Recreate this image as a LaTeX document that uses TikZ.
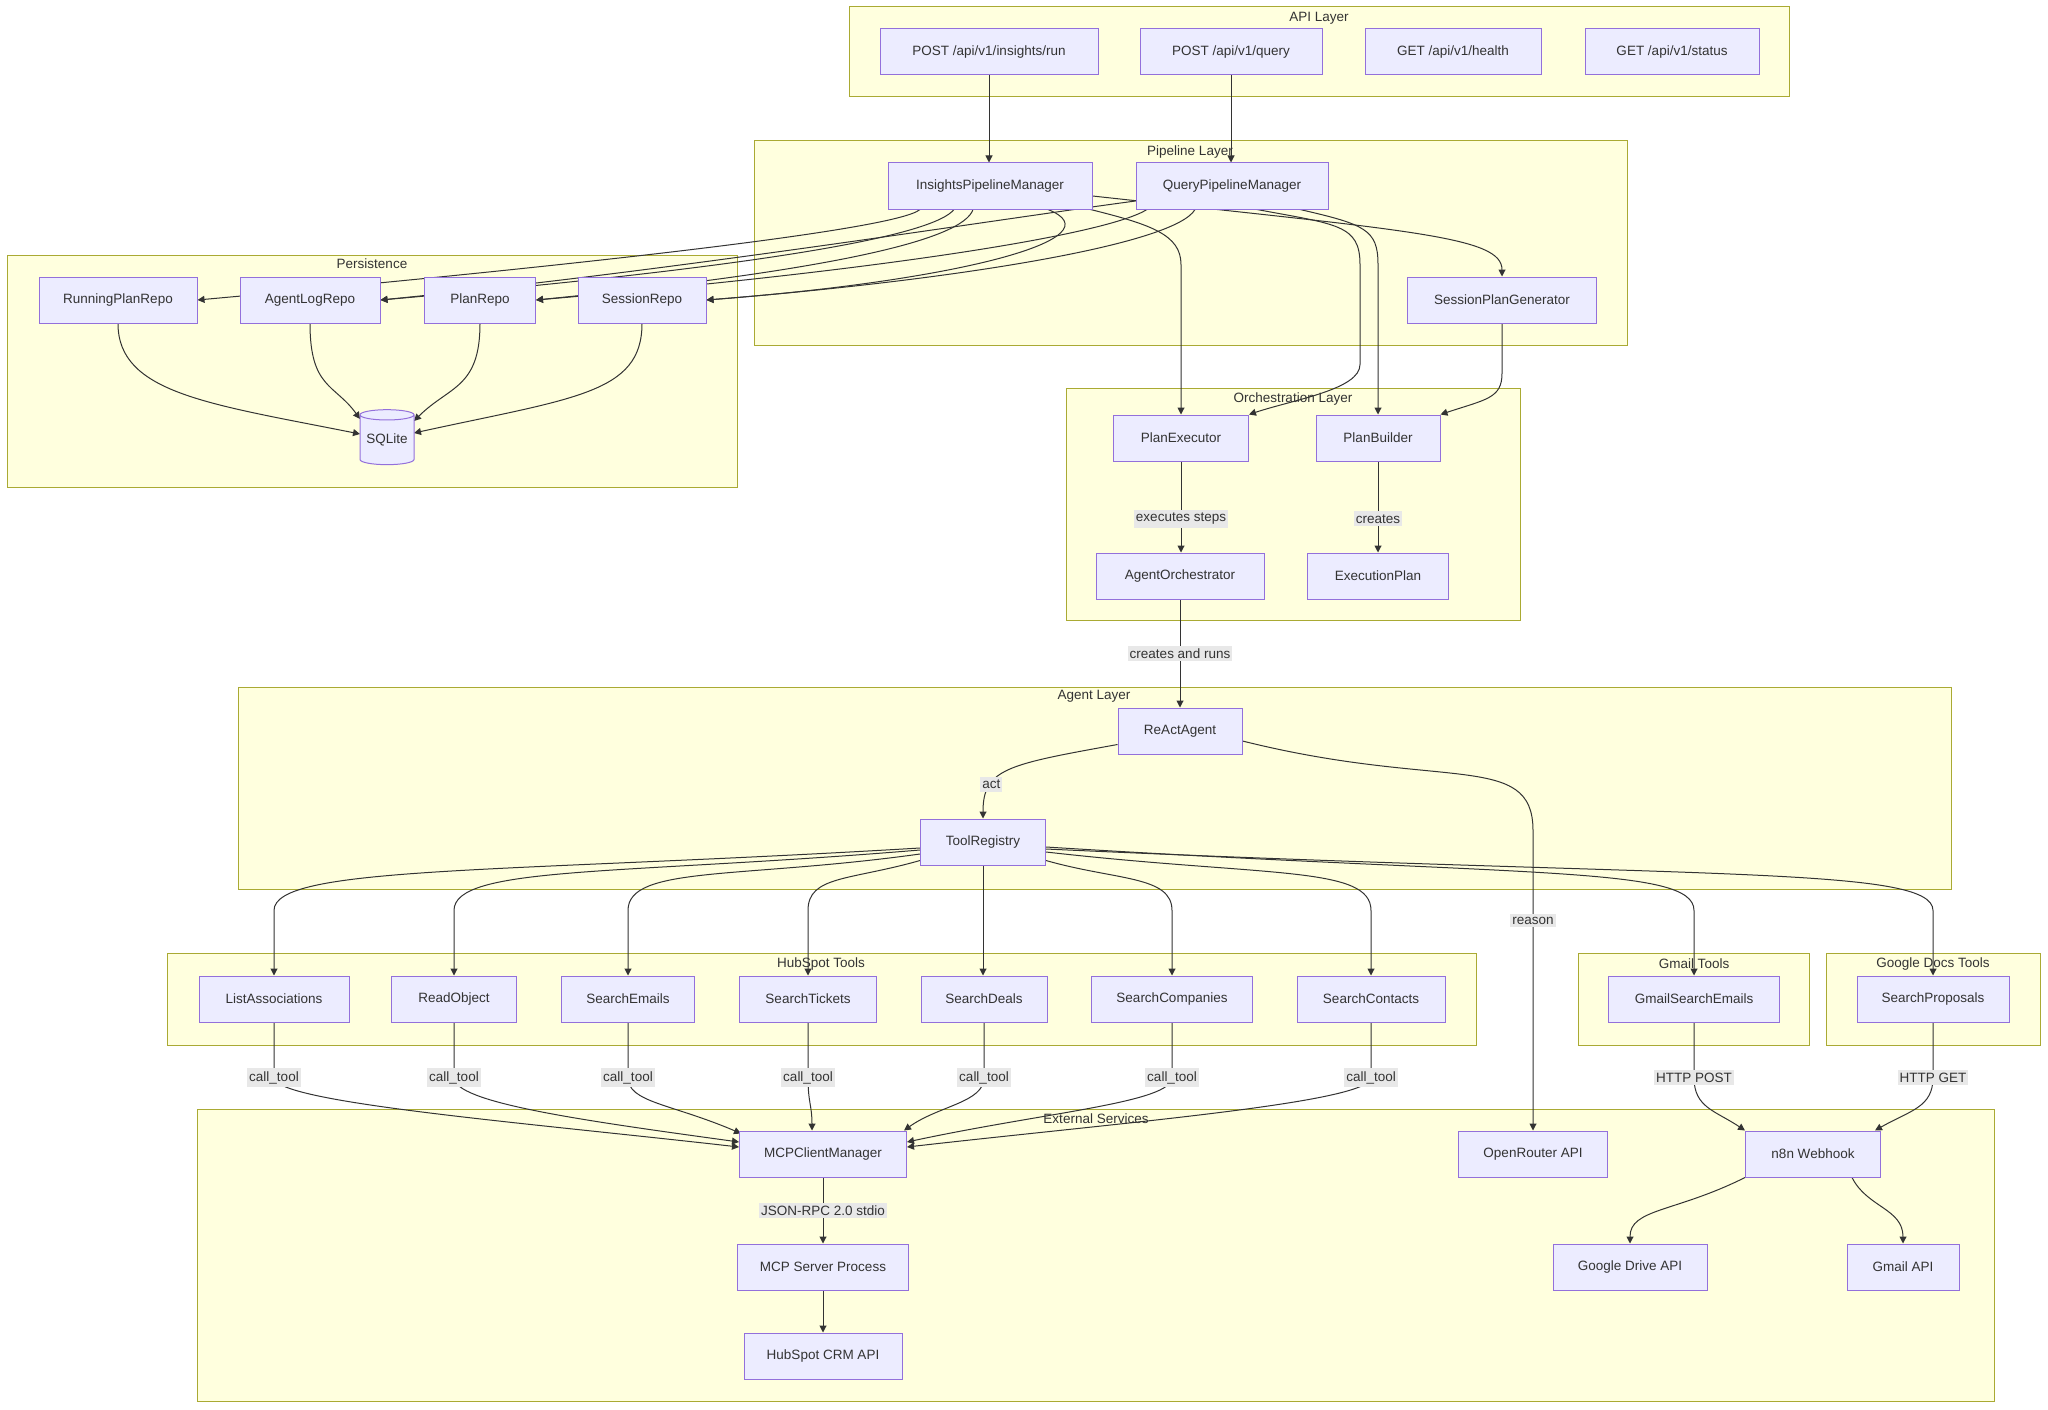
\documentclass[tikz,border=0pt]{standalone}
\usepackage{fontspec}
\setmainfont{Liberation Sans}
\usepackage{xcolor}
\usepackage{tikz}
\usetikzlibrary{shapes.geometric,arrows.meta,calc,positioning}

\definecolor{clfill}{HTML}{FFFFDE}
\definecolor{cldraw}{HTML}{AAAA33}
\definecolor{ndfill}{HTML}{ECECFF}
\definecolor{nddraw}{HTML}{9370DB}
\definecolor{edgecol}{HTML}{333333}
\definecolor{lblfill}{HTML}{E8E8E8}
\definecolor{txt}{HTML}{333333}

\pgfdeclarelayer{bg}
\pgfdeclarelayer{edges}
\pgfsetlayers{bg,edges,main}

\begin{document}
\begin{tikzpicture}[x=1pt, y=-1pt,
    font=\fontsize{13.5}{16}\selectfont,
    box/.style={draw=nddraw, fill=ndfill, line width=1pt, minimum height=46pt, inner xsep=6pt, text=txt},
    db/.style={cylinder, shape border rotate=90, aspect=0.25, draw=nddraw, fill=ndfill, line width=1pt,
        minimum width=54pt, minimum height=55pt, inner sep=0pt, text=txt},
    cluster/.style={draw=cldraw, fill=clfill, line width=1pt},
    ctitle/.style={text=txt, inner sep=1pt},
    flow/.style={draw=edgecol, line width=1pt, -{Triangle[length=7pt,width=7pt]}},
    elabel/.style={fill=lblfill, text=txt, inner xsep=2pt, inner ysep=3pt}]
    \useasboundingbox (0,0) rectangle (2048,1410);

    \begin{pgfonlayer}{bg}
        \fill[white] (0,0) rectangle (2048,1410);
        % API Layer
        \draw[cluster] (849,7) rectangle (1789,97);
        \node[ctitle] (apititle) at (1319,18) {API Layer};
        % Pipeline Layer
        \draw[cluster] (754,141) rectangle (1627,345);
        \node[ctitle] (pipetitle) at (1190,152) {Pipeline Layer};
        % Persistence
        \draw[cluster] (7,255) rectangle (737,487);
        \node[ctitle] (perstitle) at (372,264) {Persistence};
        % Orchestration Layer
        \draw[cluster] (1066,388) rectangle (1520,620);
        \node[ctitle] (orchtitle) at (1293,399) {Orchestration Layer};
        % Agent Layer
        \draw[cluster] (238,687) rectangle (1951,889);
        \node[ctitle] (agenttitle) at (1094,696) {Agent Layer};
        % HubSpot Tools
        \draw[cluster] (167,953) rectangle (1476,1045);
        \node[ctitle] (hubtitle) at (821,964) {HubSpot Tools};
        % Gmail Tools
        \draw[cluster] (1578,953) rectangle (1809,1045);
        \node[ctitle] (gmailtitle) at (1694,964) {Gmail Tools};
        % Google Docs Tools
        \draw[cluster] (1826,953) rectangle (2040,1045);
        \node[ctitle] (docstitle) at (1933,964) {Google Docs Tools};
        % External Services
        \draw[cluster] (197,1109) rectangle (1994,1401);
        \node[ctitle] (exttitle) at (1096,1119) {External Services};
    \end{pgfonlayer}

    % API Layer
    \node[box, minimum width=218pt] (runapi) at (989,52) {POST /api/v1/insights/run};
    \node[box, minimum width=182pt] (queryapi) at (1231,52) {POST /api/v1/query};
    \node[box, minimum width=176pt] (healthapi) at (1453,52) {GET /api/v1/health};
    \node[box, minimum width=174pt] (statusapi) at (1672,52) {GET /api/v1/status};

    % Pipeline Layer
    \node[box, minimum width=204pt] (ipm) at (990,186) {InsightsPipelineManager};
    \node[box, minimum width=192pt] (qpm) at (1232,186) {QueryPipelineManager};
    \node[box, minimum width=189pt] (spg) at (1502,300) {SessionPlanGenerator};

    % Persistence
    \node[box, minimum width=158pt] (rpr) at (118,300) {RunningPlanRepo};
    \node[box, minimum width=140pt] (alr) at (310,300) {AgentLogRepo};
    \node[box, minimum width=111pt] (prp) at (480,300) {PlanRepo};
    \node[box, minimum width=128pt] (srp) at (642,300) {SessionRepo};
    \node[db] (sqlite) at (387,440) {SQLite};

    % Orchestration Layer
    \node[box, minimum width=135pt] (pex) at (1181,438) {PlanExecutor};
    \node[box, minimum width=124pt] (pbd) at (1378,438) {PlanBuilder};
    \node[box, minimum width=168pt] (aor) at (1180,576) {AgentOrchestrator};
    \node[box, minimum width=141pt] (xpl) at (1378,576) {ExecutionPlan};

    % Agent Layer
    \node[box, minimum width=124pt] (react) at (1180,731) {ReActAgent};
    \node[box, minimum width=125pt] (treg) at (983,842) {ToolRegistry};

    % HubSpot, Gmail and Google Docs tools
    \node[box, minimum width=150pt] (lassoc) at (274,999) {ListAssociations};
    \node[box, minimum width=125pt] (readobj) at (454,999) {ReadObject};
    \node[box, minimum width=133pt] (semails) at (628,999) {SearchEmails};
    \node[box, minimum width=137pt] (stickets) at (808,999) {SearchTickets};
    \node[box, minimum width=126pt] (sdeals) at (984,999) {SearchDeals};
    \node[box, minimum width=161pt] (scomp) at (1172,999) {SearchCompanies};
    \node[box, minimum width=148pt] (scont) at (1371,999) {SearchContacts};
    \node[box, minimum width=171pt] (gsearch) at (1694,999) {GmailSearchEmails};
    \node[box, minimum width=152pt] (sprop) at (1933,999) {SearchProposals};

    % External Services
    \node[box, minimum width=167pt] (mcpcm) at (823,1154) {MCPClientManager};
    \node[box, minimum width=149pt] (orapi) at (1533,1154) {OpenRouter API};
    \node[box, minimum width=135pt] (webhook) at (1813,1154) {n8n Webhook};
    \node[box, minimum width=171pt] (mcpsrv) at (823,1267) {MCP Server Process};
    \node[box, minimum width=158pt] (crmapi) at (823,1356) {HubSpot CRM API};
    \node[box, minimum width=154pt] (gdrive) at (1630,1267) {Google Drive API};
    \node[box, minimum width=112pt] (gmailapi) at (1903,1267) {Gmail API};

    \begin{pgfonlayer}{edges}
        % api to pipeline
        \draw[flow] (runapi.south) -- (runapi.south |- ipm.north);
        \draw[flow] (queryapi.south) -- (queryapi.south |- qpm.north);

        % pipeline to persistence
        \draw[flow] ($(ipm.south)+(-70,0)$) .. controls +(-25,22) and +(330,-30) .. (rpr.east);
        \draw[flow] ($(ipm.south)+(-36,0)$) .. controls +(-20,25) and +(400,-35) .. (alr.east);
        \draw[flow] ($(ipm.south)+(-17,0)$) .. controls +(-10,30) and +(300,-30) .. (prp.east);
        \draw[flow] ($(ipm.south)+(58,0)$) .. controls +(70,28) and +(260,-20) .. (srp.east);
        \draw[flow] ($(qpm.west)+(0,15)$) .. controls +(-150,20) and +(300,-30) .. (alr.east);
        \draw[flow] ($(qpm.south)+(-85,0)$) .. controls +(-40,25) and +(350,-30) .. (prp.east);
        \draw[flow] ($(qpm.south)+(-37,0)$) .. controls +(-20,35) and +(250,-20) .. (srp.east);

        % pipeline to orchestration
        \draw[flow] ($(ipm.south east)+(-2,0)$) .. controls +(60,15) and +(0,-30) .. ($(pex.north)+(0,-150)$) -- (pex.north);
        \draw[flow] ($(ipm.east)+(0,10)$) .. controls +(320,35) and +(0,-40) .. (spg.north);
        \draw[flow] ($(qpm.south)+(25,0)$) .. controls +(80,15) and +(0,-40) .. ($(pbd.north)+(-18,-150)$)
            -- ($(pbd.north)+(-18,-50)$) .. controls +(0,25) and +(45,-15) .. (pex.north east);
        \draw[flow] ($(qpm.south)+(68,0)$) .. controls +(65,15) and +(0,-35) .. ($(pbd.north)+(0,-150)$) -- (pbd.north);
        \draw[flow] (spg.south) -- ++(0,50) .. controls +(0,25) and +(45,-15) .. (pbd.north east);

        % orchestration
        \draw[flow] (pex.south) -- node[elabel, pos=0.63]{executes steps} (pex.south |- aor.north);
        \draw[flow] (pbd.south) -- node[elabel, pos=0.63]{creates} (pbd.south |- xpl.north);
        \draw[flow] (aor.south) -- node[elabel]{creates and runs} (aor.south |- react.north);

        % agent
        \draw[flow] ($(react.south west)+(0,-10)$) .. controls +(-110,20) and +(0,-50) .. node[elabel, pos=0.7]{act} (treg.north);
        \draw[flow] ($(react.east)+(0,10)$) .. controls +(200,50) and +(0,-80) .. ($(orapi.north)+(0,-300)$)
            -- node[elabel, pos=0.3]{reason} (orapi.north);

        % tool registry to tools
        \draw[flow] ($(treg.west)+(0,6)$) .. controls +(-420,25) and +(0,-45) .. ($(lassoc.north)+(0,-65)$) -- (lassoc.north);
        \draw[flow] ($(treg.west)+(0,8)$) .. controls +(-300,25) and +(0,-45) .. ($(readobj.north)+(0,-65)$) -- (readobj.north);
        \draw[flow] ($(treg.west)+(0,12)$) .. controls +(-180,25) and +(0,-45) .. ($(semails.north)+(0,-65)$) -- (semails.north);
        \draw[flow] ($(treg.south west)+(0,-5)$) .. controls +(-70,20) and +(0,-35) .. ($(stickets.north)+(0,-65)$) -- (stickets.north);
        \draw[flow] (treg.south) -- (treg.south |- sdeals.north);
        \draw[flow] ($(treg.south east)+(0,-5)$) .. controls +(70,20) and +(0,-35) .. ($(scomp.north)+(0,-65)$) -- (scomp.north);
        \draw[flow] ($(treg.east)+(0,10)$) .. controls +(220,25) and +(0,-45) .. ($(scont.north)+(0,-65)$) -- (scont.north);
        \draw[flow] ($(treg.east)+(0,5)$) .. controls +(480,30) and +(0,-45) .. ($(gsearch.north)+(0,-65)$) -- (gsearch.north);
        \draw[flow] ($(treg.east)+(0,7)$) .. controls +(650,30) and +(0,-45) .. ($(sprop.north)+(0,-65)$) -- (sprop.north);

        % tools to external services
        \draw[flow] (lassoc.south) -- ++(0,55) node[elabel]{call\_tool} .. controls +(0,25) and +(-220,-25) .. ($(mcpcm.west)+(0,-7)$);
        \draw[flow] (readobj.south) -- ++(0,55) node[elabel]{call\_tool} .. controls +(0,25) and +(-160,-22) .. ($(mcpcm.west)+(0,-12)$);
        \draw[flow] (semails.south) -- ++(0,55) node[elabel]{call\_tool} .. controls +(0,25) and +(-70,-30) .. ($(mcpcm.north west)+(2,3)$);
        \draw[flow] (stickets.south) -- ++(0,55) node[elabel]{call\_tool} .. controls +(0,25) and +(0,-25) .. ($(mcpcm.north)+(-11,0)$);
        \draw[flow] (sdeals.south) -- ++(0,55) node[elabel]{call\_tool} .. controls +(0,25) and +(35,-25) .. ($(mcpcm.north east)+(-3,0)$);
        \draw[flow] (scomp.south) -- ++(0,55) node[elabel]{call\_tool} .. controls +(0,25) and +(140,-30) .. ($(mcpcm.east)+(0,-12)$);
        \draw[flow] (scont.south) -- ++(0,55) node[elabel]{call\_tool} .. controls +(0,25) and +(220,-25) .. ($(mcpcm.east)+(0,-7)$);
        \draw[flow] (gsearch.south) -- ++(0,55) node[elabel]{HTTP POST} .. controls +(0,30) and +(-30,-20) .. (webhook.north west);
        \draw[flow] (sprop.south) -- ++(0,55) node[elabel]{HTTP GET} .. controls +(0,30) and +(35,-20) .. ($(webhook.north east)+(-6,0)$);

        % external services
        \draw[flow] (mcpcm.south) -- node[elabel]{JSON-RPC 2.0 stdio} (mcpcm.south |- mcpsrv.north);
        \draw[flow] (mcpsrv.south) -- (mcpsrv.south |- crmapi.north);
        \draw[flow] (webhook.south west) .. controls +(-70,35) and +(0,-35) .. (gdrive.north);
        \draw[flow] ($(webhook.south east)+(-29,0)$) .. controls +(15,30) and +(0,-35) .. (gmailapi.north);

        % persistence to sqlite
        \draw[flow] (rpr.south) .. controls +(0,70) and +(-150,-30) .. ($(sqlite.center)+(-27,-6)$);
        \draw[flow] (alr.south) .. controls +(0,65) and +(-25,-35) .. ($(sqlite.center)+(-27,-21)$);
        \draw[flow] (prp.south) .. controls +(0,65) and +(35,-35) .. ($(sqlite.center)+(27,-19)$);
        \draw[flow] (srp.south) .. controls +(0,70) and +(160,-35) .. ($(sqlite.center)+(27,-7)$);
    \end{pgfonlayer}
\end{tikzpicture}
\end{document}
